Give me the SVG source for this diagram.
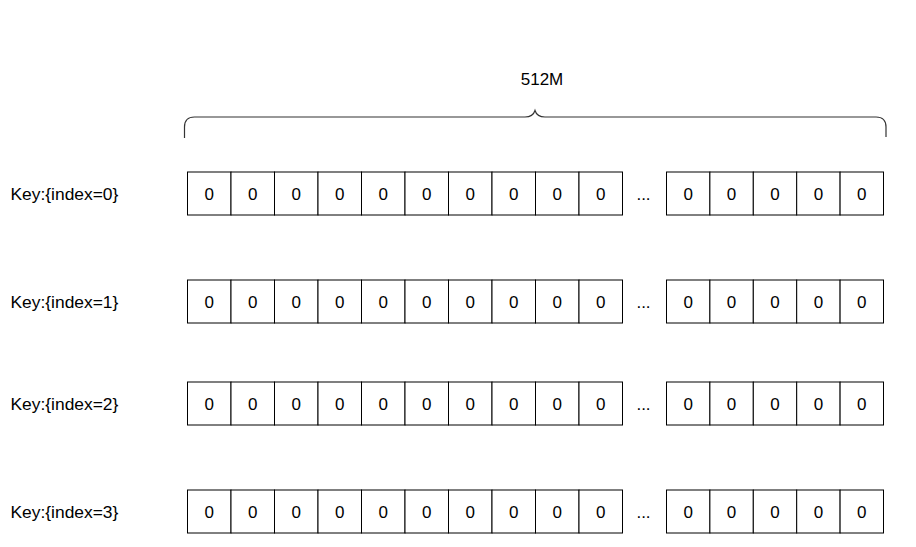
<svg xmlns="http://www.w3.org/2000/svg" width="916" height="547" viewBox="0 0 916 547">
<style>
  .cell { fill: #ffffff; stroke: #000000; stroke-width: 1; }
  .t { font-family: "Liberation Sans", Arial, Helvetica, sans-serif; font-size: 17px; fill: #000000; }
  .k { font-size: 17.4px; }
  .c { text-anchor: middle; }
  .brace { fill: none; stroke: #333333; stroke-width: 1.2; }
</style>
<defs>
  <g id="cells">
    <rect class="cell" x="187.5" y="0.5" width="43.5" height="43"/>
    <rect class="cell" x="231" y="0.5" width="43.5" height="43"/>
    <rect class="cell" x="274.5" y="0.5" width="43.5" height="43"/>
    <rect class="cell" x="318" y="0.5" width="43.5" height="43"/>
    <rect class="cell" x="361.5" y="0.5" width="43.5" height="43"/>
    <rect class="cell" x="405" y="0.5" width="43.5" height="43"/>
    <rect class="cell" x="448.5" y="0.5" width="43.5" height="43"/>
    <rect class="cell" x="492" y="0.5" width="43.5" height="43"/>
    <rect class="cell" x="535.5" y="0.5" width="43.5" height="43"/>
    <rect class="cell" x="579" y="0.5" width="43.5" height="43"/>
    <rect class="cell" x="666.5" y="0.5" width="43.4" height="43"/>
    <rect class="cell" x="709.9" y="0.5" width="43.4" height="43"/>
    <rect class="cell" x="753.3" y="0.5" width="43.4" height="43"/>
    <rect class="cell" x="796.7" y="0.5" width="43.4" height="43"/>
    <rect class="cell" x="840.1" y="0.5" width="43.4" height="43"/>
    <g class="t c">
      <text x="209.25" y="28.5">0</text>
      <text x="252.75" y="28.5">0</text>
      <text x="296.25" y="28.5">0</text>
      <text x="339.75" y="28.5">0</text>
      <text x="383.25" y="28.5">0</text>
      <text x="426.75" y="28.5">0</text>
      <text x="470.25" y="28.5">0</text>
      <text x="513.75" y="28.5">0</text>
      <text x="557.25" y="28.5">0</text>
      <text x="600.75" y="28.5">0</text>
      <text x="643.5" y="28.5">...</text>
      <text x="688.2" y="28.5">0</text>
      <text x="731.6" y="28.5">0</text>
      <text x="775" y="28.5">0</text>
      <text x="818.4" y="28.5">0</text>
      <text x="861.8" y="28.5">0</text>
    </g>
  </g>
</defs>
<g id="brace-node">
  <path class="brace" d="M184.5,138 L184.5,127 Q184.5,117 194.5,117 L525,117 Q533,117 535,110.5 Q537,117 545,117 L876,117 Q886,117 886,127 L886,137"/>
  <text class="t c" x="542" y="85">512M</text>
</g>
<g id="row0">
  <text class="t k" x="10.5" y="200">Key:{index=0}</text>
  <use href="#cells" transform="translate(0,171.5)"/>
</g>
<g id="row1">
  <text class="t k" x="10.5" y="308">Key:{index=1}</text>
  <use href="#cells" transform="translate(0,279.5)"/>
</g>
<g id="row2">
  <text class="t k" x="10.5" y="410">Key:{index=2}</text>
  <use href="#cells" transform="translate(0,381.5)"/>
</g>
<g id="row3">
  <text class="t k" x="10.5" y="518">Key:{index=3}</text>
  <use href="#cells" transform="translate(0,489.5)"/>
</g>
<g id="connectors"></g>
</svg>
